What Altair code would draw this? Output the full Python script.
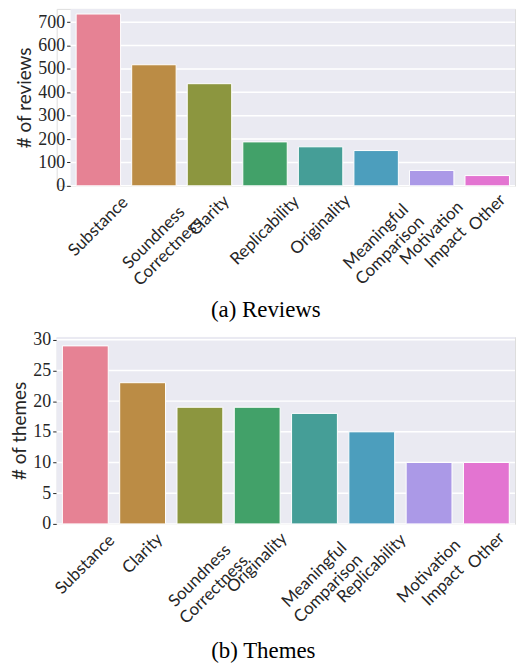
import altair as alt
import pandas as pd
import colorsys

# ---------------- data ----------------
review_cats = ["Substance", "Soundness\nCorrectness", "Clarity", "Replicability",
               "Originality", "Meaningful\nComparison", "Motivation\nImpact", "Other"]
review_vals = [735, 518, 437, 188, 167, 151, 66, 44]
review_ticks = [0, 100, 200, 300, 400, 500, 600, 700]

theme_cats = ["Substance", "Clarity", "Soundness\nCorrectness", "Originality",
              "Meaningful\nComparison", "Replicability", "Motivation\nImpact", "Other"]
theme_vals = [29, 23, 19, 19, 18, 15, 10, 10]
theme_ticks = [0, 5, 10, 15, 20, 25, 30]

# seaborn "husl" palette (8), desaturated by 0.75 as seaborn bars are
husl8 = ["#f77189", "#ce9032", "#97a431", "#32b166",
         "#36ada4", "#39a7d0", "#a48cf4", "#f561dd"]


def desat(hx, prop=0.75):
    r, g, b = (int(hx[i:i + 2], 16) / 255 for i in (1, 3, 5))
    h, l, s = colorsys.rgb_to_hls(r, g, b)
    r, g, b = colorsys.hls_to_rgb(h, l, s * prop)
    return "#%02x%02x%02x" % (round(r * 255), round(g * 255), round(b * 255))


colors = [desat(c) for c in husl8]

# ---------------- style ----------------
LAB_FS = 17
LAB_LH = 20
TEXT = "#262626"
PANEL = "#eaeaf2"


def em_width(line):
    w = 0.0
    for c in line:
        if c in "iljI":
            w += 0.24
        elif c in "tfr":
            w += 0.35
        elif c in "mwMW":
            w += 0.8
        elif c.isupper():
            w += 0.62
        else:
            w += 0.53
    return w


def label_offset(label, pad=8):
    lines = label.split("\n")
    L = max(em_width(s) for s in lines) * LAB_FS
    H = 14 + (len(lines) - 1) * LAB_LH
    return pad + 0.3535 * (L + H)


def panel(cats, vals, ticks, ymax, title, caption, width, height,
          inset, title_pad, cap_offset):
    """inset: left part of the view left blank (panel starts after it)."""
    df = pd.DataFrame({"cat": cats, "val": vals})
    df["off"] = [label_offset(c) for c in cats]
    tdf = pd.DataFrame({"t": ticks})
    yscale = alt.Scale(domain=[0, ymax], nice=False, zero=True)
    yaxis = alt.Axis(values=ticks, title=title, domain=False, grid=False,
                     offset=-inset,
                     tickColor=TEXT, tickSize=4, tickWidth=1,
                     labelFont="Liberation Serif", labelFontSize=18,
                     labelColor=TEXT, labelPadding=2,
                     titleFont="Lato", titleFontSize=19,
                     titleFontWeight="normal", titleColor=TEXT,
                     titlePadding=title_pad)
    x = alt.X("cat:N", sort=cats, axis=None,
              scale=alt.Scale(range=[inset, width],
                              paddingInner=0.2, paddingOuter=0.1))

    bg = alt.Chart(pd.DataFrame({"a": [0]})).mark_rect(color=PANEL).encode(
        x=alt.value(inset), x2=alt.value(width),
        y=alt.value(0), y2=alt.value(height),
    )
    grid = alt.Chart(tdf).mark_rule(color="white", strokeWidth=1.5).encode(
        x=alt.value(inset), x2=alt.value(width),
        y=alt.Y("t:Q", scale=yscale, axis=yaxis),
    )
    bars = alt.Chart(df).mark_bar(stroke="white", strokeWidth=1).encode(
        x=x,
        y=alt.Y("val:Q", scale=yscale, axis=yaxis),
        color=alt.Color("cat:N", scale=alt.Scale(domain=cats, range=colors),
                        legend=None),
    )
    labels = alt.Chart(df).mark_text(
        angle=315, align="center", baseline="middle", font="Lato",
        fontSize=LAB_FS, lineBreak="\n", lineHeight=LAB_LH, color=TEXT,
    ).encode(
        x=x,
        y=alt.YValue(value=alt.ExprRef(expr=f"{height} + datum.off")),
        text="cat:N",
    )
    return alt.layer(bg, grid, bars, labels).properties(
        width=width, height=height,
        title=alt.TitleParams(caption, orient="bottom", anchor="middle",
                              frame="bounds", font="Liberation Serif",
                              fontSize=23, fontWeight="normal", color="black",
                              offset=cap_offset),
    )


top = panel(review_cats, review_vals, review_ticks, 757, "# of reviews",
            "(a) Reviews", 461, 178, 14, 3, 10)
bottom = panel(theme_cats, theme_vals, theme_ticks, 30.45, "# of themes",
               "(b) Themes", 461, 188, 0, 3, 13)

chart = alt.vconcat(top, bottom, spacing=7).resolve_scale(
    x="independent", y="independent", color="independent"
).properties(
    padding={"left": 10, "top": 6, "right": 0, "bottom": 0}
).configure_view(stroke=None, fill="white").configure(background="white")

chart.save("out.html", embed_options={"renderer": "svg", "actions": False})
